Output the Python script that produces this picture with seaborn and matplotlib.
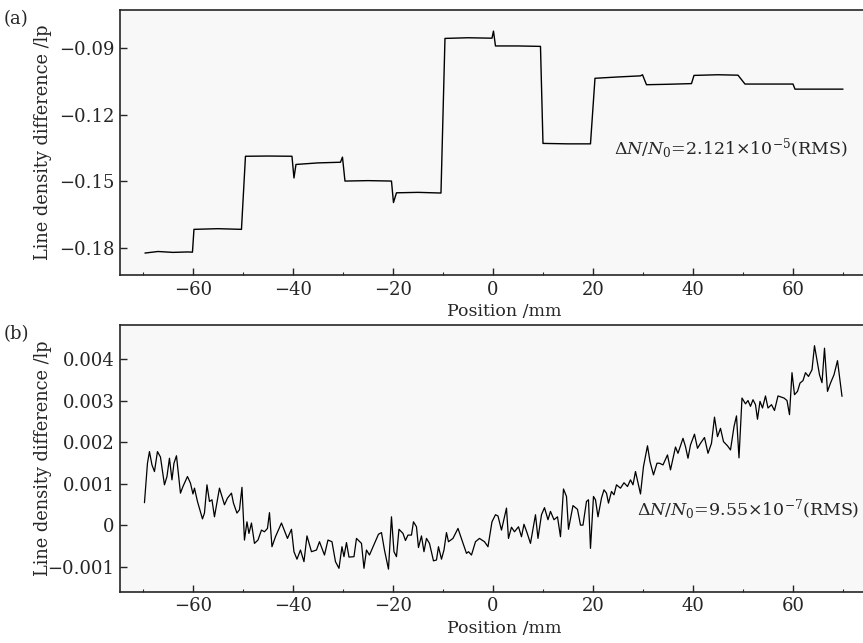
import matplotlib
matplotlib.use("Agg")
import matplotlib.pyplot as plt
import seaborn as sns

# (a) step profile
pos_a = [-69.6, -67, -64, -61, -60.1, -59.8, -55, -50.3, -49.5, -45, -40.2, -39.8, -39.4,
         -35, -30.5, -30.1, -29.6, -25, -20.3, -19.9, -19.3, -15, -10.4, -9.6, -5, -0.2,
         0.1, 0.5, 5, 9.5, 10.0, 15, 19.5, 20.4, 25, 29.5, 29.9, 30.7, 35, 39.7, 40.2,
         45, 49.0, 50.4, 55, 60.0, 60.4, 65, 70]
diff_a = [-0.1825, -0.1818, -0.1822, -0.1820, -0.1821, -0.1718, -0.1715, -0.1718, -0.1388,
          -0.1387, -0.1388, -0.1486, -0.1425, -0.1418, -0.1415, -0.1392, -0.1500, -0.1498,
          -0.1500, -0.1597, -0.1553, -0.1551, -0.1554, -0.0856, -0.0853, -0.0855, -0.0823,
          -0.0890, -0.0890, -0.0892, -0.1330, -0.1332, -0.1332, -0.1036, -0.1030, -0.1025,
          -0.1020, -0.1065, -0.1063, -0.1060, -0.1023, -0.1020, -0.1022, -0.1062, -0.1062,
          -0.1062, -0.1085, -0.1085, -0.1085]

# (b) residual profile
pos_b = [-69.7, -69.1, -68.7, -68.2, -67.7, -67.1, -66.5, -65.7, -65.2, -64.7, -64.2, -63.8,
         -63.3, -62.5, -62.0, -61.1, -60.5, -60.0, -59.7, -59.1, -58.1, -57.7, -57.2, -56.7,
         -56.2, -55.7, -54.7, -53.7, -53.1, -52.3, -51.9, -51.2, -50.7, -50.2, -49.7, -49.2,
         -48.8, -48.3, -47.7, -47.0, -46.3, -45.7, -45.1, -44.7, -44.2, -43.5, -42.3, -41.1,
         -40.3, -39.8, -39.2, -38.5, -37.8, -37.2, -36.3, -35.3, -34.7, -33.7, -33.0, -32.2,
         -31.5, -30.8, -30.2, -29.8, -29.3, -28.8, -27.8, -27.3, -26.3, -25.8, -25.3, -24.7,
         -23.7, -22.9, -22.3, -21.7, -20.9, -20.3, -19.8, -19.3, -18.8, -18.0, -17.5, -17.0,
         -16.3, -15.9, -15.3, -14.9, -14.3, -13.8, -13.3, -12.7, -11.9, -11.3, -10.9, -10.3,
         -9.8, -9.3, -8.9, -8.0, -7.0, -6.2, -5.3, -4.9, -4.3, -3.5, -2.7, -1.7, -1.0, -0.2,
         0.5, 1.0, 1.7, 2.7, 3.1, 3.7, 4.3, 5.1, 5.7, 6.2, 6.8, 7.5, 8.5, 9.0, 9.7, 10.3,
         11.0, 11.5, 12.2, 12.9, 13.5, 14.1, 14.7, 15.1, 16.0, 16.9, 17.5, 18.0, 18.7, 19.1,
         19.5, 20.1, 20.5, 21.0, 21.7, 22.2, 22.7, 23.1, 23.7, 24.2, 24.7, 25.5, 26.2, 26.9,
         27.5, 28.0, 28.5, 29.5, 30.1, 30.9, 31.4, 32.1, 32.8, 33.3, 34.0, 34.9, 35.5, 36.5,
         37.0, 37.5, 38.0, 38.5, 39.0, 39.5, 40.3, 40.9, 41.5, 42.3, 43.0, 43.7, 44.3, 44.9,
         45.5, 46.1, 46.9, 47.5, 48.2, 48.7, 49.2, 49.8, 50.5, 51.0, 51.5, 52.0, 52.5, 52.9,
         53.4, 53.9, 54.5, 55.0, 55.7, 56.3, 57.0, 57.7, 58.2, 58.8, 59.3, 59.8, 60.3, 60.9,
         61.4, 62.0, 62.5, 63.1, 63.8, 64.3, 64.9, 65.3, 65.8, 66.3, 66.9, 67.5, 68.2, 68.9,
         69.8]
diff_b = [0.54e-3, 1.49e-3, 1.77e-3, 1.45e-3, 1.29e-3, 1.77e-3, 1.64e-3, 0.97e-3, 1.17e-3,
          1.61e-3, 1.09e-3, 1.49e-3, 1.67e-3, 0.77e-3, 0.93e-3, 1.17e-3, 1.01e-3, 0.75e-3,
          0.89e-3, 0.57e-3, 0.15e-3, 0.29e-3, 0.97e-3, 0.57e-3, 0.61e-3, 0.20e-3, 0.89e-3,
          0.49e-3, 0.65e-3, 0.77e-3, 0.53e-3, 0.29e-3, 0.37e-3, 0.91e-3, -0.36e-3, 0.08e-3,
          -0.20e-3, 0.05e-3, -0.44e-3, -0.36e-3, -0.12e-3, -0.16e-3, -0.08e-3, 0.30e-3,
          -0.52e-3, -0.28e-3, 0.05e-3, -0.32e-3, -0.10e-3, -0.64e-3, -0.82e-3, -0.60e-3,
          -0.88e-3, -0.26e-3, -0.64e-3, -0.60e-3, -0.40e-3, -0.72e-3, -0.36e-3, -0.40e-3,
          -0.88e-3, -1.04e-3, -0.52e-3, -0.76e-3, -0.42e-3, -0.77e-3, -0.76e-3, -0.32e-3,
          -0.44e-3, -1.04e-3, -0.60e-3, -0.72e-3, -0.44e-3, -0.22e-3, -0.18e-3, -0.60e-3,
          -1.06e-3, 0.20e-3, -0.64e-3, -0.76e-3, -0.10e-3, -0.20e-3, -0.37e-3, -0.24e-3,
          -0.24e-3, 0.08e-3, -0.04e-3, -0.54e-3, -0.26e-3, -0.64e-3, -0.32e-3, -0.44e-3,
          -0.86e-3, -0.84e-3, -0.52e-3, -0.82e-3, -0.60e-3, -0.18e-3, -0.40e-3, -0.32e-3,
          -0.08e-3, -0.36e-3, -0.68e-3, -0.64e-3, -0.72e-3, -0.40e-3, -0.32e-3, -0.40e-3,
          -0.52e-3, 0.08e-3, 0.25e-3, 0.22e-3, -0.12e-3, 0.41e-3, -0.32e-3, -0.05e-3,
          -0.16e-3, -0.04e-3, -0.28e-3, 0.02e-3, -0.18e-3, -0.44e-3, 0.25e-3, -0.32e-3,
          0.25e-3, 0.42e-3, 0.13e-3, 0.33e-3, 0.13e-3, 0.20e-3, -0.28e-3, 0.87e-3, 0.69e-3,
          -0.10e-3, 0.47e-3, 0.38e-3, 0.00, 0.00, 0.57e-3, 0.61e-3, -0.56e-3, 0.69e-3,
          0.61e-3, 0.20e-3, 0.65e-3, 0.85e-3, 0.77e-3, 0.53e-3, 0.81e-3, 0.73e-3, 0.97e-3,
          0.89e-3, 1.02e-3, 0.93e-3, 1.09e-3, 0.97e-3, 1.29e-3, 0.75e-3, 1.41e-3, 1.91e-3,
          1.53e-3, 1.21e-3, 1.49e-3, 1.49e-3, 1.45e-3, 1.69e-3, 1.33e-3, 1.88e-3, 1.73e-3,
          1.91e-3, 2.09e-3, 1.89e-3, 1.61e-3, 1.93e-3, 2.19e-3, 1.85e-3, 1.97e-3, 2.11e-3,
          1.73e-3, 1.97e-3, 2.60e-3, 2.13e-3, 2.33e-3, 2.01e-3, 1.91e-3, 1.81e-3, 2.37e-3,
          2.63e-3, 1.62e-3, 3.06e-3, 2.92e-3, 3.00e-3, 2.86e-3, 3.02e-3, 2.90e-3, 2.55e-3,
          2.98e-3, 2.82e-3, 3.11e-3, 2.82e-3, 2.90e-3, 2.76e-3, 3.11e-3, 3.08e-3, 3.06e-3,
          3.00e-3, 2.66e-3, 3.67e-3, 3.14e-3, 3.22e-3, 3.42e-3, 3.48e-3, 3.67e-3, 3.58e-3,
          3.74e-3, 4.32e-3, 3.90e-3, 3.62e-3, 3.43e-3, 4.26e-3, 3.22e-3, 3.42e-3, 3.62e-3,
          3.96e-3, 3.10e-3]

x_ticks = [-60, -40, -20, 0, 20, 40, 60]
x_ticklabels = ["\u221260", "\u221240", "\u221220", "0", "20", "40", "60"]
a_yticks = [-0.18, -0.15, -0.12, -0.09]
a_yticklabels = ["\u22120.18", "\u22120.15", "\u22120.12", "\u22120.09"]
b_yticks = [-0.001, 0, 0.001, 0.002, 0.003, 0.004]
b_yticklabels = ["\u22120.001", "0", "0.001", "0.002", "0.003", "0.004"]

sns.set_style("ticks")
plt.rcParams['font.family'] = ['DejaVu Serif']
plt.rcParams['mathtext.fontset'] = 'dejavuserif'

fig = plt.figure(figsize=(8.63, 6.43), dpi=100)
ax1 = fig.add_axes([0.139, 0.572, 0.861, 0.412])
ax2 = fig.add_axes([0.139, 0.080, 0.861, 0.414])

sns.lineplot(x=pos_a, y=diff_a, ax=ax1, color='black', lw=1.0)
sns.lineplot(x=pos_b, y=diff_b, ax=ax2, color='black', lw=0.9)

ax1.set_ylim(-0.1925, -0.0729)
ax2.set_ylim(-0.0016, 0.00481)
ax1.set_yticks(a_yticks)
ax1.set_yticklabels(a_yticklabels)
ax2.set_yticks(b_yticks)
ax2.set_yticklabels(b_yticklabels)

for ax in (ax1, ax2):
    ax.set_facecolor('#f8f8f8')
    ax.set_xlim(-74.6, 74)
    ax.set_xticks(x_ticks)
    ax.set_xticklabels(x_ticklabels)
    ax.set_xticks([-70, -50, -30, -10, 10, 30, 50, 70], minor=True)
    ax.spines['right'].set_visible(False)
    for s in ('left', 'top', 'bottom'):
        ax.spines[s].set_linewidth(1.2)
    ax.tick_params(direction='in', length=5, width=1, labelsize=13, pad=4)
    ax.tick_params(which='minor', direction='in', length=2, width=0.8)
    ax.tick_params(axis='y', which='minor', length=0)
    ax.set_xlabel('Position /mm', fontsize=12.5)
    ax.set_ylabel('Line density difference /lp', fontsize=12.8)
    ax.xaxis.set_label_coords(0.517, -0.105)
    ax.yaxis.set_label_coords(-0.092, 0.5)

ax1.text(24.3, -0.1353, r'$\Delta N/N_0$=2.121$\times$10$^{-5}$(RMS)', fontsize=12.5,
         ha='left', va='center')
ax2.text(28.9, 0.00037, r'$\Delta N/N_0$=9.55$\times$10$^{-7}$(RMS)', fontsize=12.5,
         ha='left', va='center')

fig.text(0.004, 0.985, '(a)', fontsize=13, ha='left', va='top')
fig.text(0.004, 0.494, '(b)', fontsize=13, ha='left', va='top')

fig.savefig('out.png', dpi=100)
plt.close()
